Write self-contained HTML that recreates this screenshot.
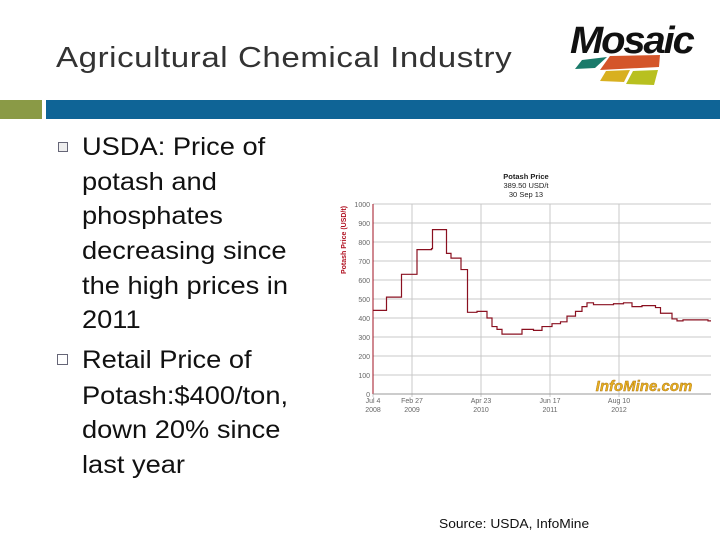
<!DOCTYPE html>
<html><head><meta charset="utf-8"><style>
body{margin:0;width:720px;height:540px;background:#fff;position:relative;overflow:hidden;font-family:"Liberation Sans",sans-serif}
.t{position:absolute;left:82px;font-size:25px;color:#111;white-space:nowrap;line-height:25px;transform:scaleX(1.09);transform-origin:left top}
</style></head><body>
<div style="position:absolute;left:56px;top:42px;font-size:29px;color:#333;letter-spacing:0.5px;white-space:nowrap;transform:scaleX(1.14);transform-origin:left top">Agricultural Chemical Industry</div>
<div style="position:absolute;left:560px;top:14px;width:160px;height:80px">
<div style="position:absolute;left:10px;top:6px;font-size:38px;font-weight:bold;font-style:italic;color:#111;letter-spacing:-2px;transform:scaleX(1.05);transform-origin:left top">Mosaic</div>
<svg width="160" height="80" style="position:absolute;left:0;top:0">
<polygon points="22,46 47,43 35,54 15,55" fill="#1a7a6a"/>
<polygon points="50,42 100,41 99,53 40,56" fill="#d4552a"/>
<polygon points="46,57 70,56 64,68 40,67" fill="#d8b020"/>
<polygon points="73,57 98,56 94,71 66,70" fill="#b8c020"/>
</svg></div>
<div style="position:absolute;left:0;top:100px;width:42px;height:19px;background:#8a9a46"></div>
<div style="position:absolute;left:46px;top:100px;width:674px;height:19px;background:#0f6496"></div>
<div style="position:absolute;left:58px;top:142px;width:8px;height:8px;border:1px solid #667;background:#eee"></div>
<div style="position:absolute;left:57px;top:354px;width:9px;height:9px;border:1px solid #667"></div>
<div class="t" style="top:135px">USDA: Price of</div>
<div class="t" style="top:170px">potash and</div>
<div class="t" style="top:204px">phosphates</div>
<div class="t" style="top:239px">decreasing since</div>
<div class="t" style="top:274px">the high prices in</div>
<div class="t" style="top:308px">2011</div>
<div class="t" style="top:348px">Retail Price of</div>
<div class="t" style="top:384px">Potash:$400/ton,</div>
<div class="t" style="top:418px">down 20% since</div>
<div class="t" style="top:453px">last year</div>
<div style="position:absolute;left:439px;top:516px;font-size:13px;color:#111;white-space:nowrap;transform:scaleX(1.06);transform-origin:left top">Source: USDA, InfoMine</div>
<svg id="chart" width="720" height="540" style="position:absolute;left:0;top:0"></svg>
<script>
const months=[0,2.7,5.7,8.8,11.7,11.9,14.7,15.6,17.6,18.9,20.8,22.8,23.8,24.8,25.8,29.8,32.1,33.8,35.8,37.5,38.8,40.5,41.8,42.8,44.1,48.1,50.1,51.8,53.8,56.5,57.5,59.8,60.8,62,67];
const prices=[440,510,630,760,765,865,740,715,655,430,435,400,355,340,315,340,335,355,370,380,410,435,460,480,470,475,480,460,465,455,425,395,385,390,385];
const yTicks=[0,100,200,300,400,500,600,700,800,900,1000];
const xTickMonths=[0,7.8,21.6,35.4,49.2];
const xTickLabels=[["Jul 4","2008"],["Feb 27","2009"],["Apr 23","2010"],["Jun 17","2011"],["Aug 10","2012"]];
const endMonth=67.6;
const X=m=>373+m*5, Y=v=>394-v*0.19;
const svg=document.getElementById('chart'),NS='http://www.w3.org/2000/svg';
function mk(tag,a,txt){const e=document.createElementNS(NS,tag);for(const k in a)e.setAttribute(k,a[k]);if(txt!=null)e.textContent=txt;svg.appendChild(e);return e;}
yTicks.forEach(v=>{
 const g=mk('line',{x1:X(0),x2:X(endMonth),y1:Y(v),y2:Y(v),stroke:'#c8c8c8','stroke-width':1});
 
 
 const t=mk('text',{x:370,y:Y(v)+3,'font-size':7,fill:'#666','text-anchor':'end'},String(v));
 
 
});
xTickMonths.forEach((m,i)=>{
 const g=mk('line',{x1:X(m),x2:X(m),y1:Y(1000),y2:Y(0)+3,stroke:'#c8c8c8','stroke-width':1});
 
 
 xTickLabels[i].forEach((s,j)=>{
  const t=mk('text',{x:X(m),y:403+j*9,'font-size':7,fill:'#666','text-anchor':'middle'},s);
  
  
 });
});
const ax=mk('line',{x1:X(0),x2:X(0),y1:Y(1000),y2:Y(0),stroke:'#a01020','stroke-width':1});


const ax2=mk('line',{x1:X(0),x2:X(endMonth),y1:Y(0),y2:Y(0),stroke:'#999','stroke-width':1});


let d='M'+X(months[0])+','+Y(prices[0]);
for(let i=1;i<months.length;i++){d+=' H'+X(months[i])+' V'+Y(prices[i]);}
d+=' H'+X(endMonth);
const p=mk('path',{d:d,fill:'none',stroke:'#8a1020','stroke-width':1.2});


const yt=mk('text',{x:0,y:0,'font-size':7,fill:'#b01020','font-weight':'bold','text-anchor':'middle',transform:'translate(346,240) rotate(-90)'},'Potash Price (USD/t)');


[['Potash Price',179,'bold'],['389.50 USD/t',188,'normal'],['30 Sep 13',197,'normal']].forEach(r=>{
 const t=mk('text',{x:526,y:r[1],'font-size':7.5,fill:'#222','font-weight':r[2],'text-anchor':'middle'},r[0]);
 
 
});
const wm=mk('text',{x:644,y:391,'font-size':15,'font-style':'italic','font-weight':'bold',fill:'#e8b020',stroke:'#a87010','stroke-width':0.4,'text-anchor':'middle'},'InfoMine.com');


</script>
</body></html>
